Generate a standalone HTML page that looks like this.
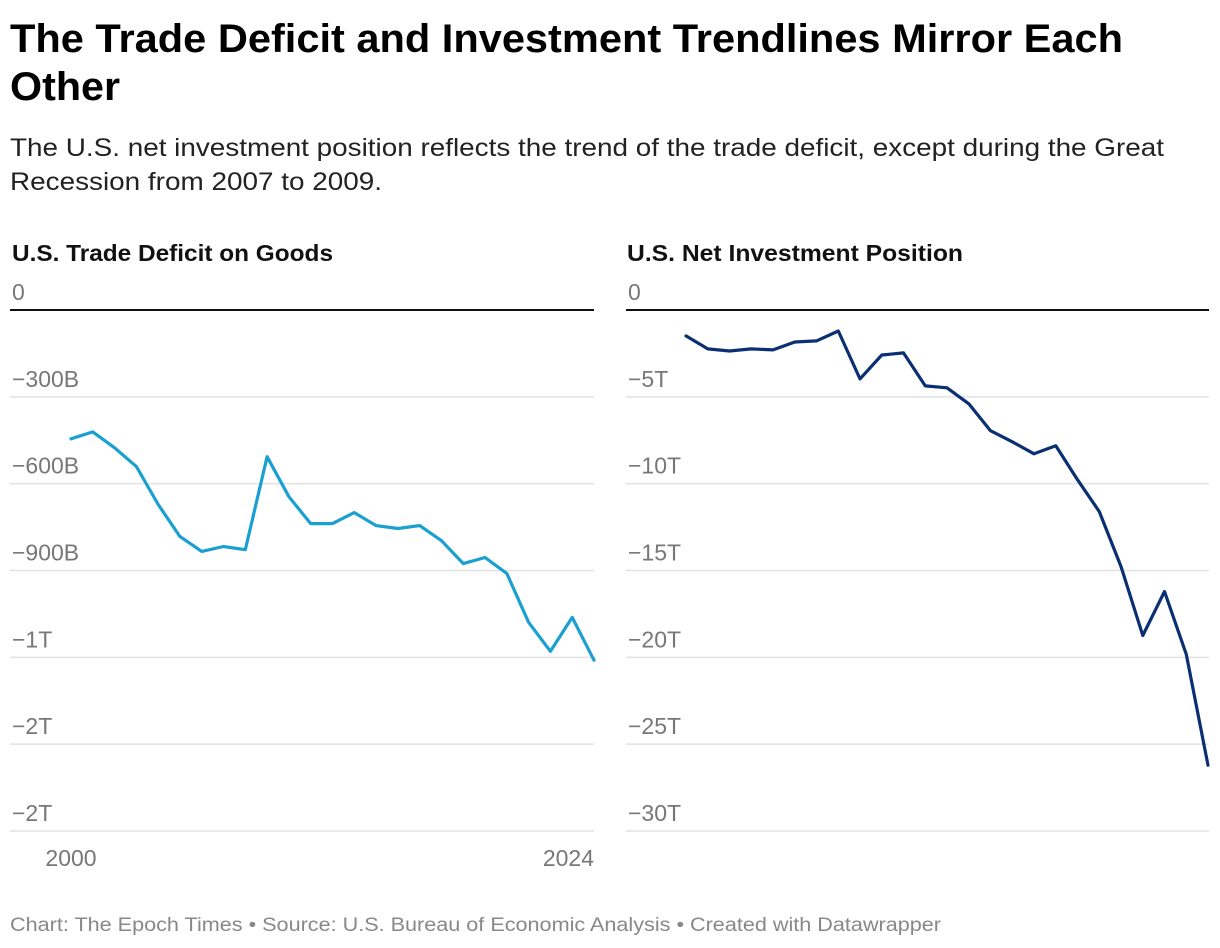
<!DOCTYPE html>
<html><head><meta charset="utf-8"><style>
html,body{margin:0;padding:0;background:#fff;}
svg{display:block;font-family:"Liberation Sans",sans-serif;}
</style></head><body>
<svg id="root" width="1220" height="948" viewBox="0 0 1220 948">
<text x="10" y="52" font-size="40" font-weight="bold" fill="#000" textLength="1113" lengthAdjust="spacingAndGlyphs">The Trade Deficit and Investment Trendlines Mirror Each</text>
<text x="10" y="100" font-size="40" font-weight="bold" fill="#000" textLength="110" lengthAdjust="spacingAndGlyphs">Other</text>
<text x="10" y="156" font-size="25" fill="#222" textLength="1154" lengthAdjust="spacingAndGlyphs">The U.S. net investment position reflects the trend of the trade deficit, except during the Great</text>
<text x="10" y="190" font-size="25" fill="#222" textLength="372" lengthAdjust="spacingAndGlyphs">Recession from 2007 to 2009.</text>
<text x="12" y="261" font-size="23" font-weight="bold" fill="#111" textLength="321" lengthAdjust="spacingAndGlyphs">U.S. Trade Deficit on Goods</text>
<text x="627" y="261" font-size="23" font-weight="bold" fill="#111" textLength="336" lengthAdjust="spacingAndGlyphs">U.S. Net Investment Position</text>
<g id="left"></g><g id="right"></g>
<text x="10" y="931" font-size="19" fill="#888" textLength="931" lengthAdjust="spacingAndGlyphs">Chart: The Epoch Times • Source: U.S. Bureau of Economic Analysis • Created with Datawrapper</text>
</svg>
<script>
const years = [2000,2001,2002,2003,2004,2005,2006,2007,2008,2009,2010,2011,2012,2013,2014,2015,2016,2017,2018,2019,2020,2021,2022,2023,2024];
const tradeDeficit = [-445,-421,-476,-541,-672,-783,-834,-817,-828,-507,-645,-738,-738,-700,-745,-755,-745,-797,-876,-855,-910,-1079,-1179,-1062,-1210];
const netInvestment = [-1.49,-2.24,-2.36,-2.24,-2.30,-1.84,-1.78,-1.21,-3.97,-2.59,-2.47,-4.37,-4.48,-5.40,-6.95,-7.59,-8.28,-7.82,-9.77,-11.61,-14.77,-18.74,-16.21,-19.83,-26.21];
const leftTicks = [0,-300,-600,-900,-1200,-1500,-1800];
const leftTickLabels = ["0","−300B","−600B","−900B","−1T","−2T","−2T"];
const rightTicks = [0,-5,-10,-15,-20,-25,-30];
const rightTickLabels = ["0","−5T","−10T","−15T","−20T","−25T","−30T"];
const xLabelYears = [2000,2024];

const NS = "http://www.w3.org/2000/svg";
function mk(tag, attrs, parent){const e=document.createElementNS(NS,tag);for(const k in attrs)e.setAttribute(k,attrs[k]);parent.appendChild(e);return e;}

function panel(g, x0, x1, lx0, lx1, ymin, ticks, labels, vals, color, xlabels, prefix){
  const y0=310, y1=831;
  const ys = v => y0 + (v/ymin)*(y1-y0);
  const xs = yr => lx0 + (yr-years[0])/(years[years.length-1]-years[0])*(lx1-lx0);
  ticks.forEach((t,i)=>{
    const y=ys(t);
    const ln=mk('line',{x1:x0,x2:x1,y1:y,y2:y,stroke:t===0?'#111':'#e2e2e2','stroke-width':t===0?2:1.5},g);
    
    
    const tx=mk('text',{x:x0+2,y:y-10,'font-size':23,fill:'#777'},g);
    tx.textContent=labels[i];
    
    
  });
  const d=vals.map((v,i)=>(i?'L':'M')+xs(years[i]).toFixed(1)+','+ys(v).toFixed(1)).join(' ');
  const p=mk('path',{d:d,fill:'none',stroke:color,'stroke-width':3.2,'stroke-linejoin':'round','stroke-linecap':'round'},g);
  
  
  if(xlabels){
    xlabels.forEach((yr,i)=>{
      const x=xs(yr);
      const t=mk('text',{x: i===0? x : x1, y:866,'font-size':23,fill:'#777','text-anchor':i===0?'middle':'end'},g);
      t.textContent=String(yr);
      
      
    });
  }
}
panel(document.getElementById('left'),10,594,71,594,-1800,leftTicks,leftTickLabels,tradeDeficit,'#1aa0d0',xLabelYears,'trade-deficit');
panel(document.getElementById('right'),626,1209,686,1208,-30,rightTicks,rightTickLabels,netInvestment,'#0b2f73',null,'net-investment');
</script>
</body></html>
